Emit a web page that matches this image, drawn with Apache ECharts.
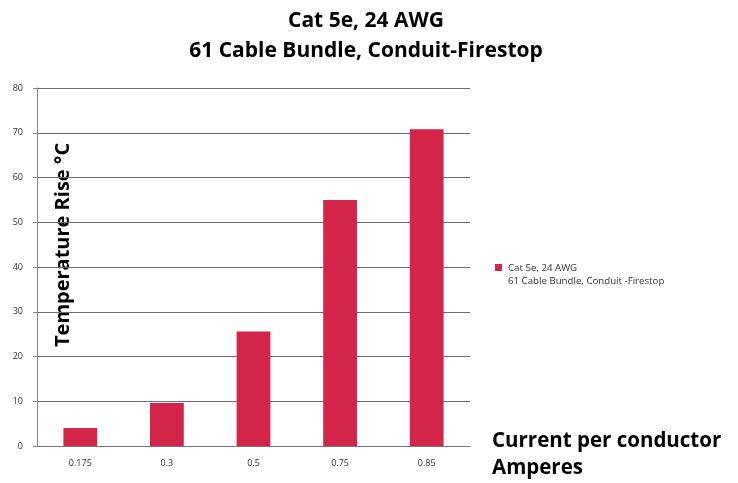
<!DOCTYPE html>
<html><head><meta charset="utf-8">
<script src="https://cdn.jsdelivr.net/npm/echarts@6/dist/echarts.min.js"></script>
<style>html,body{margin:0;padding:0;background:#fff}#c{width:738px;height:483px}</style>
</head><body><div id="c"></div>
<script>
var categories = ['0.175', '0.3', '0.5', '0.75', '0.85'];
var tempRise = [4.0, 9.6, 25.6, 55.0, 70.8];
var seriesName = 'Cat 5e, 24 AWG\n61 Cable Bundle, Conduit -Firestop';
var titleText = 'Cat 5e, 24 AWG\n61 Cable Bundle, Conduit-Firestop';
var yName = 'Temperature Rise °C';
var xName = 'Current per conductor\nAmperes';
var barColor = '#d3254a';

var chart = echarts.init(document.getElementById('c'));
chart.setOption({
  animation: false,
  backgroundColor: '#fff',
  title: {
    text: titleText, left: 361, textAlign: 'center', top: 1,
    textStyle: { fontFamily: 'Open Sans', fontWeight: 'bold', fontSize: 21, lineHeight: 30, color: '#000' }
  },
  legend: { show: false, data: [seriesName] },
  grid: { left: 37, right: 268, top: 88, bottom: 37 },
  xAxis: {
    type: 'category', data: categories,
    axisLine: { lineStyle: { color: '#777' } },
    axisTick: { alignWithLabel: false, length: 5, lineStyle: { color: '#777' } },
    axisLabel: { fontFamily: 'Open Sans', fontSize: 9, color: '#333', margin: 13 }
  },
  yAxis: {
    type: 'value', min: 0, max: 80, interval: 10,
    axisLine: { show: true, lineStyle: { color: '#888' } },
    axisTick: { show: true, length: 4, lineStyle: { color: '#888' } },
    axisLabel: { fontFamily: 'Open Sans', fontSize: 9, color: '#333', margin: 14 },
    splitLine: { lineStyle: { color: '#6e6e6e', width: 1 } }
  },
  graphic: [
    { type: 'text', rotation: Math.PI / 2, x: 53, y: 347, style: {
        text: yName, fontFamily: 'Open Sans', fontWeight: 'bold', fontSize: 20, fill: '#000' } },
    { type: 'text', x: 492, y: 428, style: {
        text: xName, fontFamily: 'Open Sans', fontWeight: 'bold', fontSize: 20.5, lineHeight: 27, fill: '#000' } },
    { type: 'rect', shape: { x: 495, y: 264, width: 7, height: 7 }, style: { fill: barColor } },
    { type: 'text', x: 508, y: 262, style: {
        text: seriesName, fontFamily: 'Open Sans', fontSize: 9.7, lineHeight: 13, fill: '#333' } }
  ],
  series: [{
    name: seriesName, type: 'bar', data: tempRise, barWidth: '39%',
    itemStyle: { color: barColor }
  }]
});
</script></body></html>
